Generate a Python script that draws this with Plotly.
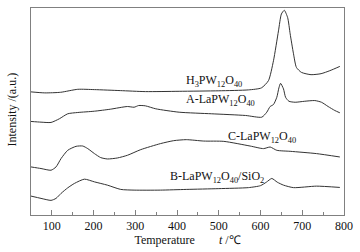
import plotly.graph_objects as go

# Temperature (°C) and intensity (a.u.)
h3_t = [50, 83, 121, 162, 202, 264, 324, 405, 500, 571, 602, 619, 631, 643, 650, 657, 665, 671, 679, 686, 698, 721, 745, 766, 790]
h3_i = [123.7, 122.7, 123.3, 126.3, 126, 125, 124, 124.3, 124.8, 125.7, 127.7, 135, 155, 185, 202, 205.7, 198.3, 182, 162, 148.3, 143.3, 141, 142, 145, 149.3]

a_t = [50, 74, 98, 118, 138, 162, 202, 240, 281, 297, 308, 324, 349, 405, 483, 564, 603, 615, 623, 631, 639, 644, 648, 655, 660, 668, 683, 706, 730, 746, 762, 778, 790]
a_i = [94, 93.3, 93, 96.7, 101.7, 103, 104.3, 106.3, 109, 108.3, 110, 109.7, 106.7, 103.3, 101.7, 100, 98.3, 103.3, 109, 111, 118.3, 127.7, 132.3, 126.7, 118.3, 114.3, 113.3, 114.3, 115, 113.3, 109, 105, 102.7]

c_t = [50, 74, 98, 110, 122, 138, 158, 174, 186, 202, 217, 233, 257, 281, 313, 360, 392, 422, 464, 512, 575, 607, 623, 639, 671, 734, 790]
c_i = [48.3, 46.7, 45, 48.3, 56.7, 65, 69, 69.3, 66.7, 61.7, 57.7, 56.3, 57.3, 60, 65.7, 71.7, 74.7, 75.7, 74.3, 74, 69.3, 66.7, 68.3, 65, 64, 61.7, 58.3]

b_t = [50, 74, 98, 110, 122, 138, 154, 178, 202, 233, 265, 297, 360, 422, 500, 571, 600, 614, 627, 640, 655, 679, 734, 790]
b_i = [19, 16.7, 14.7, 16.7, 21.7, 27.3, 31.7, 36, 33.3, 30, 25.7, 25, 25, 25.7, 26.5, 27.5, 29.5, 33, 36.7, 33, 30, 27.5, 29, 27.7]

labels = ["H<sub>3</sub>PW<sub>12</sub>O<sub>40</sub>",
          "A-LaPW<sub>12</sub>O<sub>40</sub>",
          "C-LaPW<sub>12</sub>O<sub>40</sub>",
          "B-LaPW<sub>12</sub>O<sub>40</sub>/SiO<sub>2</sub>"]
label_x = [488, 505, 604, 496]
label_y = [135, 115.5, 78, 38]

x_ticks = [100, 200, 300, 400, 500, 600, 700, 800]

FONT = "Liberation Serif, Times New Roman, serif"
LINE = "#333333"
AX = "#808080"

fig = go.Figure()
for t, i in [(h3_t, h3_i), (a_t, a_i), (c_t, c_i), (b_t, b_i)]:
    fig.add_trace(go.Scatter(x=t, y=i, mode="lines", line=dict(color=LINE, width=1, shape="spline", smoothing=0.6),
                             showlegend=False, hoverinfo="skip"))

for txt, lx, ly in zip(labels, label_x, label_y):
    fig.add_annotation(x=lx, y=ly, text=txt, showarrow=False, xanchor="center", yanchor="middle",
                       font=dict(family=FONT, size=12, color="#111111"))

fig.add_annotation(xref="paper", yref="paper", x=0, y=0.5, xshift=-20, yshift=2,
                   text="Intensity /(a.u.)", textangle=-90, showarrow=False,
                   xanchor="center", yanchor="middle", font=dict(family=FONT, size=12, color="#111111"))

fig.update_layout(
    width=360, height=252,
    margin=dict(l=31, r=14, t=7, b=37),
    paper_bgcolor="white", plot_bgcolor="white",
    font=dict(family=FONT, size=12, color="#111111"),
    xaxis=dict(range=[50, 800], tickvals=x_ticks, ticks="inside", ticklen=5, tickcolor=AX, tickwidth=1,
               showline=True, linecolor=AX, linewidth=1, mirror=True, showgrid=False, zeroline=False,
               minor=dict(dtick=50, tick0=50, ticks="inside", ticklen=3, tickcolor=AX, showgrid=False),
               tickfont=dict(family=FONT, size=12, color="#111111"),
               title=dict(text="Temperature" + "\u00a0" * 8 + "<i>t</i> /\u2103", standoff=3,
                          font=dict(family=FONT, size=12, color="#111111"))),
    yaxis=dict(range=[0, 208], showticklabels=False, ticks="", showline=True, linecolor=AX, linewidth=1,
               mirror=True, showgrid=False, zeroline=False),
)

fig.write_html("out.html", config={"displayModeBar": False, "staticPlot": True},
               post_script="document.body.style.margin='0';document.body.style.overflow='hidden';")
